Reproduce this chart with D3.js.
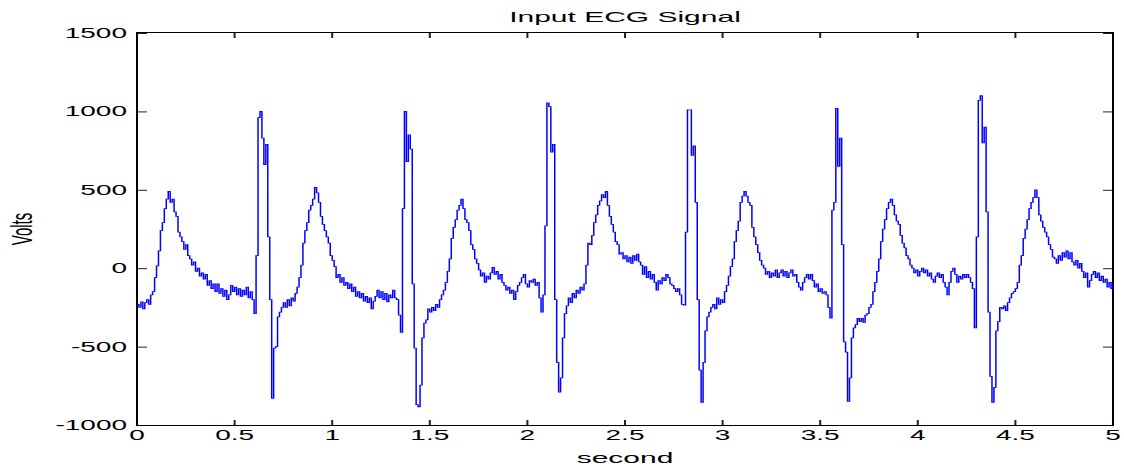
<!DOCTYPE html>
<html><head><meta charset="utf-8">
<script src="https://cdn.jsdelivr.net/npm/d3@7"></script>
<style>html,body{margin:0;padding:0;background:#fff;overflow:hidden}</style>
</head><body><svg id="chart" width="1124" height="469"></svg>
<script>
const title = "Input ECG Signal";
const xLabel = "second";
const yLabel = "Volts";
const xTicks = [0, 0.5, 1, 1.5, 2, 2.5, 3, 3.5, 4, 4.5, 5];
const yTicks = [-1000, -500, 0, 500, 1000, 1500];
const sampleRate = 100; // samples per second

// ECG samples (Volts), one array per second
const sec0 = [
-230,-250,-215,-260,-220,-200,-230,-170,-150,-60,
15,110,240,290,380,440,490,420,440,360,
330,230,200,170,120,150,80,60,20,40,
-20,0,-50,-30,-70,-40,-110,-80,-130,-100,
-150,-100,-160,-130,-180,-140,-200,-170,-110,-150,
-120,-170,-130,-180,-140,-170,-120,-190,-150,-200,
-290,80,960,1000,830,660,790,200,-200,-830,
-510,-500,-310,-280,-250,-220,-250,-200,-240,-190,
-210,-160,-120,-60,20,160,240,290,370,400,
440,515,480,420,330,280,240,200,160,80];
const sec1 = [
50,10,-60,-40,-90,-60,-110,-90,-130,-100,
-150,-120,-180,-150,-190,-160,-210,-180,-220,-190,
-260,-210,-180,-140,-190,-150,-200,-160,-215,-170,
-190,-140,-190,-200,-300,-410,380,1000,680,850,
760,-100,-510,-870,-885,-745,-445,-350,-330,-260,
-280,-250,-270,-230,-250,-200,-170,-140,-90,-20,
60,190,260,310,370,400,440,380,310,290,
240,150,120,60,30,-10,-50,-30,-90,-50,
-70,-30,5,-40,-20,-70,-40,-90,-110,-140,
-120,-160,-140,-200,-150,-110,-90,-60,-40,-100];
const sec2 = [
-120,-80,-90,-70,-110,-90,-190,-280,-170,270,
1054,1030,740,790,-200,-600,-790,-700,-445,-290,
-240,-190,-220,-160,-190,-140,-160,-120,-140,-100,
20,160,150,210,290,340,400,430,470,450,
490,400,330,280,230,170,150,90,100,60,
80,40,70,30,80,50,90,40,20,-40,
10,-60,-20,-70,-40,-90,-140,-80,-100,-60,
-80,-40,-60,-100,-110,-130,-150,-130,-170,-230,
-235,230,1010,1010,720,780,420,-200,-650,-855,
-600,-400,-310,-280,-250,-230,-260,-190,-230,-200];
const sec3 = [
-220,-150,-110,-50,10,60,170,240,300,420,
460,490,460,420,400,260,200,150,100,50,
20,0,-40,-20,-60,-30,-50,-10,-60,-30,
-10,-50,-20,-60,-30,-10,-50,-40,-90,-120,
-140,-90,-60,-40,-70,-40,-80,-120,-100,-150,
-130,-160,-150,-170,-250,-318,370,420,1020,650,
830,150,-470,-535,-850,-700,-445,-380,-360,-320,
-340,-320,-345,-300,-290,-250,-230,-150,-90,-20,
60,170,250,310,380,420,440,400,340,300,
280,210,160,130,80,60,20,0,-30,-10];
const sec4 = [
-50,-20,0,-30,-10,-50,-30,-70,-90,-50,
-30,-60,-40,-90,-120,-170,-90,-20,0,-40,
-90,-50,-70,-40,-60,-40,-60,-90,-130,-380,
200,1070,1100,800,900,360,-280,-690,-855,-760,
-400,-340,-250,-260,-240,-270,-220,-190,-160,-150,
-130,-90,20,80,190,250,310,380,420,450,
500,450,340,300,260,230,200,150,120,70,
60,30,80,50,100,70,110,60,100,40,
20,50,0,30,-20,-60,-30,-120,-80,-40,
-20,-60,-30,-80,-50,-90,-70,-120,-90,-130];
const sec5 = [-100];

const signal = [].concat(sec0, sec1, sec2, sec3, sec4, sec5);

const svg = d3.select("#chart");
svg.append("rect").attr("width", 1124).attr("height", 469).attr("fill", "#fff");
// the original figure is stretched 2x horizontally
const g = svg.append("g").attr("transform", "scale(2,1)");
const L = 68.5, R = 556.5, T = 33, B = 425;
const x = d3.scaleLinear().domain([0, 5]).range([L, R]);
const y = d3.scaleLinear().domain([-1000, 1500]).range([B, T]);
const fmt = d => String(d);
const FONT = "'Liberation Sans', Arial, Helvetica, sans-serif";

function style(sel) {
  sel.select(".domain").remove();
  sel.attr("font-family", FONT).attr("font-size", 14).attr("color", "#000");
  sel.selectAll(".tick line").attr("stroke", "#222");
}

g.append("g").attr("transform", `translate(0,${B})`)
  .call(d3.axisBottom(x).tickValues(xTicks).tickFormat(fmt).tickSizeInner(-5).tickSizeOuter(0).tickPadding(5).offset(0))
  .call(style);
g.append("g").attr("transform", `translate(0,${T})`)
  .call(d3.axisTop(x).tickValues(xTicks).tickFormat("").tickSizeInner(-5).tickSizeOuter(0).offset(0))
  .call(style);
g.append("g").attr("transform", `translate(${L},0)`)
  .call(d3.axisLeft(y).tickValues(yTicks).tickFormat(fmt).tickSizeInner(-5).tickSizeOuter(0).tickPadding(5))
  .call(style);
g.append("g").attr("transform", `translate(${R},0)`)
  .call(d3.axisRight(y).tickValues(yTicks).tickFormat("").tickSizeInner(-5).tickSizeOuter(0))
  .call(style);

g.append("rect").attr("x", L).attr("y", T - 0.5).attr("width", R - L).attr("height", B - T + 1)
  .attr("fill", "none").attr("stroke", "#000").attr("stroke-width", 1);

const line = d3.line()
  .x((d, i) => x(i / sampleRate))
  .y(d => y(d))
  .curve(d3.curveStepAfter);

g.append("path").datum(signal)
  .attr("d", line)
  .attr("fill", "none")
  .attr("stroke", "#0000ff")
  .attr("stroke-width", 0.75);

g.append("text").attr("x", (L + R) / 2).attr("y", 22)
  .attr("text-anchor", "middle").attr("font-family", FONT).attr("font-size", 15)
  .text(title);
g.append("text").attr("x", (L + R) / 2).attr("y", 463)
  .attr("text-anchor", "middle").attr("font-family", FONT).attr("font-size", 15)
  .text(xLabel);
g.append("text").attr("transform", `translate(16,${(T + B) / 2}) rotate(-90)`)
  .attr("text-anchor", "middle").attr("font-family", FONT).attr("font-size", 15)
  .text(yLabel);
</script></body></html>
